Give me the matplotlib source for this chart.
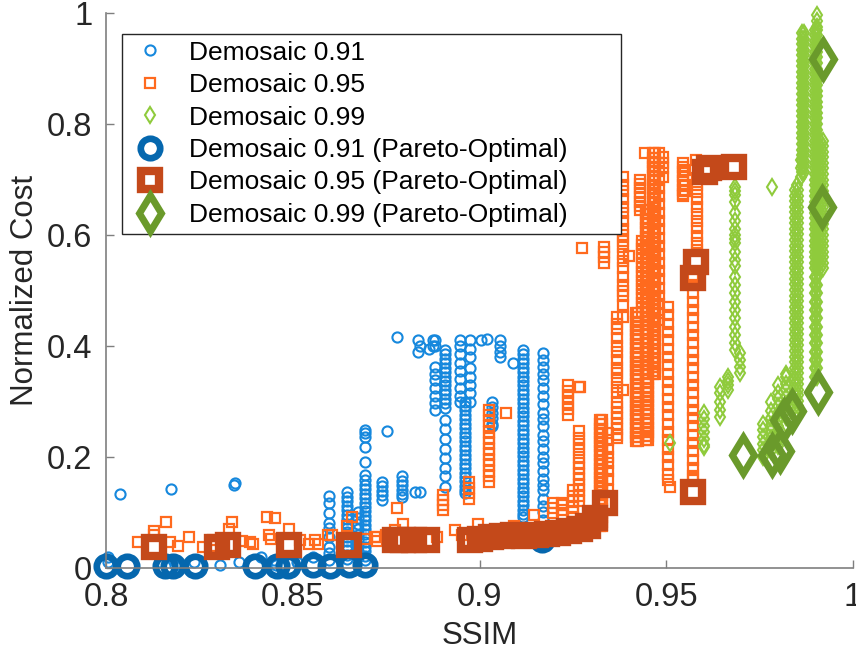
import matplotlib
matplotlib.use("Agg")
import matplotlib.pyplot as plt

plt.rcParams['font.family'] = ['Liberation Sans', 'DejaVu Sans']

# ---- Demosaic 0.91 (small circles) ----
blue_pts_x = [0.8005, 0.8005, 0.8038, 0.8145, 0.8173, 0.818, 0.8185, 0.8235, 0.8305, 0.8342,
              0.8345, 0.8357, 0.8415, 0.845, 0.8455, 0.851, 0.8555, 0.8753, 0.878, 0.8827,
              0.884, 0.909, 0.9005, 0.902, 0.8835, 0.884, 0.8835, 0.8875, 0.8875, 0.8865]
blue_pts_y = [0.02, 0.01, 0.133, 0.01, 0.142, 0.015, 0.005, 0.01, 0.005, 0.15,
              0.153, 0.01, 0.02, 0.015, 0.005, 0.01, 0.02, 0.247, 0.416, 0.137,
              0.137, 0.37, 0.41, 0.412, 0.41, 0.40, 0.39, 0.41, 0.40, 0.395]
blue_cols = [
    (0.8597, [0.13, 0.117, 0.099, 0.081, 0.072, 0.056, 0.038, 0.027, 0.015]),
    (0.8644, [0.137, 0.128, 0.12, 0.112, 0.104, 0.096, 0.088, 0.08, 0.072, 0.064, 0.056,
              0.048, 0.04, 0.032, 0.024, 0.016]),
    (0.8675, [0.1, 0.09, 0.08, 0.07, 0.06, 0.05, 0.04, 0.03, 0.02]),
    (0.8693, [0.249, 0.243, 0.236, 0.218, 0.191, 0.168, 0.159, 0.15, 0.142, 0.134, 0.126,
              0.118, 0.11, 0.102, 0.094, 0.086, 0.078, 0.07, 0.062, 0.054, 0.046, 0.038,
              0.03, 0.022, 0.014]),
    (0.8738, [0.155, 0.147, 0.139, 0.131, 0.122]),
    (0.8792, [0.165, 0.157, 0.149, 0.141, 0.133, 0.128]),
    (0.888, [0.41, 0.40, 0.362, 0.35, 0.338, 0.325, 0.31, 0.298, 0.285]),
    (0.8907, [0.393, 0.385, 0.377, 0.369, 0.361, 0.353, 0.345, 0.337, 0.329, 0.321, 0.313,
              0.305, 0.297, 0.289, 0.267, 0.25, 0.232, 0.215, 0.198, 0.18, 0.165, 0.146]),
    (0.8948, [0.41, 0.40, 0.385, 0.37, 0.355, 0.34, 0.325, 0.31, 0.3]),
    (0.8961, [0.3, 0.292, 0.284, 0.276, 0.268, 0.26, 0.252, 0.244, 0.236, 0.228, 0.22,
              0.212, 0.204, 0.196, 0.188, 0.18, 0.172, 0.164, 0.156, 0.148, 0.14, 0.135]),
    (0.8975, [0.41, 0.395, 0.38, 0.36, 0.345, 0.33, 0.315, 0.3]),
    (0.9033, [0.3, 0.29, 0.28, 0.27, 0.26, 0.255]),
    (0.9055, [0.41, 0.40, 0.39, 0.38]),
    (0.9117, [0.393, 0.385, 0.377, 0.369, 0.361, 0.353, 0.345, 0.337, 0.329, 0.321, 0.313,
              0.305, 0.297, 0.289, 0.281, 0.273, 0.265, 0.257, 0.249, 0.241, 0.233, 0.225,
              0.217, 0.209, 0.201, 0.193, 0.185, 0.177, 0.169, 0.161, 0.153, 0.145, 0.137,
              0.129, 0.121, 0.113, 0.105, 0.097, 0.092]),
    (0.917, [0.387, 0.375, 0.363, 0.35, 0.338, 0.325, 0.31, 0.295, 0.28, 0.268, 0.255,
             0.24, 0.228, 0.215, 0.2, 0.19, 0.175, 0.16, 0.15, 0.14, 0.125, 0.112, 0.1, 0.087]),
]
blue_par_x = [0.8, 0.8055, 0.8158, 0.818, 0.8238, 0.8399, 0.8457, 0.8488, 0.8555, 0.86,
              0.8649, 0.8693, 0.9167]
blue_par_y = [0.003, 0.003, 0.004, 0.003, 0.004, 0.004, 0.003, 0.004, 0.005, 0.004,
              0.005, 0.005, 0.05]

# ---- Demosaic 0.95 (small squares) ----
orange_pts_x = [0.8085, 0.8129, 0.8129, 0.816, 0.817, 0.8192, 0.8221, 0.826, 0.8285, 0.8287,
                0.833, 0.8337, 0.8363, 0.8384, 0.8394, 0.843, 0.8452, 0.8436, 0.8441, 0.849,
                0.852, 0.8544, 0.8566, 0.8558, 0.8595, 0.8606, 0.8644, 0.8658, 0.8693, 0.8725,
                0.8725, 0.875, 0.8774, 0.8796, 0.878, 0.872, 0.8885, 0.8933, 0.8952, 0.8997,
                0.907, 0.9093, 0.9146, 0.9222, 0.9267, 0.9274, 0.94, 0.9385, 0.9443, 0.958,
                0.9269, 0.951]
orange_pts_y = [0.047, 0.067, 0.06, 0.082, 0.046, 0.04, 0.056, 0.038, 0.05, 0.04,
                0.07, 0.082, 0.049, 0.046, 0.043, 0.091, 0.09, 0.06, 0.052, 0.07,
                0.05, 0.044, 0.043, 0.05, 0.06, 0.06, 0.076, 0.091, 0.053, 0.056,
                0.049, 0.06, 0.068, 0.08, 0.108, 0.056, 0.056, 0.068, 0.06, 0.079,
                0.28, 0.076, 0.095, 0.117, 0.326, 0.576, 0.563, 0.453, 0.747, 0.735,
                0.327, 0.146]
orange_col_9447 = [0.645, 0.637, 0.629, 0.621, 0.613, 0.605, 0.597, 0.589, 0.581, 0.573, 0.565,
                   0.557, 0.549, 0.541, 0.533, 0.525, 0.517, 0.509, 0.501, 0.493, 0.485, 0.477,
                   0.469, 0.461, 0.453, 0.445, 0.437, 0.429, 0.421, 0.413, 0.405, 0.397, 0.389,
                   0.381, 0.373, 0.365, 0.357, 0.349, 0.341, 0.333, 0.325, 0.317, 0.309, 0.301,
                   0.293, 0.285, 0.277, 0.269, 0.261, 0.253, 0.245, 0.237, 0.23]
orange_col_9465 = [0.747, 0.739, 0.731, 0.723, 0.715, 0.707, 0.699, 0.691, 0.683, 0.675, 0.667,
                   0.659, 0.651, 0.643, 0.635, 0.627, 0.619, 0.611, 0.603, 0.595, 0.587, 0.579,
                   0.571, 0.563, 0.555, 0.547, 0.539, 0.531, 0.523, 0.515, 0.507, 0.499, 0.491,
                   0.483, 0.475, 0.467, 0.459, 0.451, 0.443, 0.435, 0.427, 0.419, 0.411, 0.403,
                   0.395, 0.387, 0.379, 0.371, 0.363, 0.355, 0.35]
orange_col_942 = [0.46, 0.452, 0.444, 0.436, 0.428, 0.42, 0.412, 0.404, 0.396, 0.388, 0.38,
                  0.372, 0.364, 0.356, 0.348, 0.34, 0.332, 0.324, 0.316, 0.308, 0.3, 0.292,
                  0.284, 0.276, 0.268, 0.26, 0.252, 0.244, 0.236, 0.228]
orange_col_9323 = [0.267, 0.259, 0.251, 0.243, 0.235, 0.227, 0.219, 0.211, 0.203, 0.195, 0.187,
                   0.179, 0.171, 0.163, 0.155, 0.147, 0.139, 0.131, 0.123, 0.115, 0.107, 0.099,
                   0.091, 0.083, 0.075]
orange_cols = [
    (0.8903, [0.132, 0.123, 0.114, 0.105]),
    (0.8973, [0.155, 0.145, 0.135, 0.125]),
    (0.9024, [0.285, 0.275, 0.265, 0.255, 0.245, 0.235, 0.225, 0.215, 0.205, 0.195, 0.185,
              0.175, 0.165, 0.155]),
    (0.9196, [0.117, 0.108, 0.099]),
    (0.922, [0.114, 0.105, 0.096]),
    (0.9238, [0.33, 0.319, 0.308, 0.297, 0.286, 0.276]),
    (0.9251, [0.14, 0.13, 0.12, 0.11, 0.1, 0.09, 0.08, 0.07, 0.063]),
    (0.9265, [0.246, 0.235, 0.224, 0.213, 0.2, 0.19, 0.18, 0.17, 0.16, 0.15, 0.14, 0.13, 0.12]),
    (0.9323, orange_col_9323),
    (0.9328, orange_col_9323),
    (0.9332, [0.579, 0.57, 0.56, 0.55]),
    (0.9345, [0.243, 0.23, 0.215, 0.2, 0.19, 0.175, 0.16, 0.14]),
    (0.9367, [0.453, 0.44, 0.43, 0.415, 0.40, 0.39, 0.375, 0.36, 0.351, 0.339, 0.327, 0.315,
              0.30, 0.29, 0.28, 0.27, 0.26, 0.25, 0.24, 0.234]),
    (0.9385, [0.705, 0.69, 0.68, 0.665, 0.65, 0.64, 0.625, 0.61, 0.6, 0.59, 0.578, 0.565,
              0.553, 0.54, 0.525, 0.51, 0.5, 0.49, 0.474, 0.32]),
    (0.942, orange_col_942),
    (0.9425, orange_col_942),
    (0.943, [0.7, 0.692, 0.684, 0.676, 0.668, 0.66, 0.652, 0.645]),
    (0.9434, [0.59, 0.582, 0.574, 0.566, 0.558, 0.55, 0.542, 0.534, 0.526, 0.518, 0.51,
              0.502, 0.494, 0.486, 0.478, 0.47, 0.462]),
    (0.9447, orange_col_9447),
    (0.9452, orange_col_9447),
    (0.9465, orange_col_9465),
    (0.947, orange_col_9465),
    (0.948, [0.747, 0.73, 0.715, 0.7, 0.685, 0.67, 0.655, 0.64, 0.625, 0.61, 0.595, 0.58,
             0.565, 0.55, 0.535, 0.52, 0.505, 0.49, 0.475, 0.46, 0.447]),
    (0.9492, [0.741, 0.73, 0.72, 0.705]),
    (0.9505, [0.47, 0.455, 0.44, 0.425, 0.41, 0.395, 0.38, 0.365, 0.35, 0.335, 0.32, 0.305,
              0.29, 0.275, 0.26, 0.245, 0.23, 0.215, 0.2, 0.185, 0.17, 0.158]),
    (0.9546, [0.73, 0.722, 0.714, 0.706, 0.698, 0.69, 0.682, 0.674, 0.67]),
    (0.955, [0.717, 0.69, 0.68]),
    (0.9572, [0.525, 0.51, 0.495, 0.48, 0.465, 0.45, 0.435, 0.42, 0.405, 0.39, 0.375, 0.36,
              0.345, 0.33, 0.315, 0.3, 0.285, 0.27, 0.255, 0.24, 0.225, 0.21, 0.195, 0.18,
              0.165, 0.159]),
    (0.9581, [0.703, 0.69, 0.677, 0.664, 0.651, 0.638, 0.625, 0.612, 0.599, 0.586, 0.573]),
]
orange_par_x = [0.8129, 0.8296, 0.8327, 0.849, 0.8651, 0.8774, 0.8796, 0.8825, 0.886, 0.8975,
                0.9, 0.903, 0.906, 0.909, 0.912, 0.915, 0.918, 0.921, 0.924, 0.927,
                0.929, 0.931, 0.9335, 0.9572, 0.9572, 0.958, 0.9605, 0.9615, 0.968]
orange_par_y = [0.038, 0.038, 0.041, 0.041, 0.041, 0.05, 0.05, 0.05, 0.05, 0.05,
                0.052, 0.055, 0.058, 0.06, 0.058, 0.06, 0.062, 0.063, 0.066, 0.07,
                0.076, 0.09, 0.117, 0.137, 0.522, 0.552, 0.714, 0.72, 0.723]

# ---- Demosaic 0.99 (small diamonds) ----
green_pts_x = [0.951, 0.9782, 0.9903, 0.9903, 0.9903, 0.986, 0.986, 0.986, 0.985]
green_pts_y = [0.225, 0.687, 0.996, 0.985, 0.975, 0.735, 0.72, 0.705, 0.69]
green_col_9849 = [0.681, 0.671, 0.661, 0.651, 0.641, 0.631, 0.621, 0.611, 0.601, 0.591, 0.581,
                  0.571, 0.561, 0.551, 0.541, 0.531, 0.521, 0.511, 0.501, 0.491, 0.481, 0.471,
                  0.461, 0.451, 0.441, 0.431, 0.421, 0.411, 0.401, 0.391, 0.381, 0.371, 0.361,
                  0.351, 0.341, 0.331, 0.321, 0.311, 0.301, 0.291, 0.281]
green_col_9867 = [0.964, 0.954, 0.944, 0.934, 0.924, 0.914, 0.904, 0.894, 0.884, 0.874, 0.864,
                  0.854, 0.844, 0.834, 0.824, 0.814, 0.804, 0.794, 0.784, 0.774, 0.764, 0.754,
                  0.744, 0.734, 0.724, 0.714]
green_col_990 = [0.97, 0.96, 0.95, 0.94, 0.93, 0.92, 0.91, 0.9, 0.89, 0.88, 0.87, 0.86, 0.85,
                 0.84, 0.83, 0.82, 0.81, 0.8, 0.79, 0.78, 0.77, 0.76, 0.75, 0.74, 0.73, 0.72,
                 0.71, 0.7, 0.69, 0.68, 0.67, 0.66, 0.65, 0.64, 0.63, 0.62, 0.61, 0.6, 0.59,
                 0.58, 0.57, 0.56, 0.55, 0.54, 0.525, 0.51, 0.495, 0.48, 0.465, 0.45, 0.435,
                 0.42, 0.405, 0.39, 0.375, 0.36, 0.344]
green_col_9915 = [0.77, 0.76, 0.75, 0.74, 0.73, 0.72, 0.71, 0.7, 0.69, 0.68, 0.67, 0.66, 0.65,
                  0.64, 0.63, 0.62, 0.61, 0.6, 0.59, 0.58, 0.57, 0.56, 0.55, 0.54]
green_cols = [
    (0.96, [0.279, 0.268, 0.256, 0.245, 0.233, 0.222, 0.218]),
    (0.9644, [0.326, 0.315, 0.3, 0.285, 0.272]),
    (0.9666, [0.345, 0.337, 0.33, 0.321]),
    (0.9684, [0.687, 0.68, 0.672, 0.66, 0.64, 0.625, 0.61, 0.6, 0.592, 0.585, 0.57, 0.555,
              0.545, 0.525, 0.51, 0.495, 0.48, 0.465, 0.45, 0.435, 0.42, 0.405, 0.393]),
    (0.9697, [0.387, 0.375, 0.363, 0.351]),
    (0.976, [0.2, 0.212, 0.224, 0.236, 0.248, 0.26]),
    (0.978, [0.21, 0.222, 0.234, 0.246, 0.258, 0.27, 0.282, 0.3]),
    (0.98, [0.22, 0.232, 0.244, 0.256, 0.268, 0.28, 0.292, 0.304, 0.316, 0.33]),
    (0.982, [0.26, 0.272, 0.284, 0.296, 0.308, 0.32, 0.332, 0.344, 0.35]),
    (0.9845, green_col_9849),
    (0.9852, green_col_9849),
    (0.9864, green_col_9867),
    (0.987, green_col_9867),
    (0.9897, green_col_990),
    (0.9904, green_col_990),
    (0.9912, green_col_9915),
    (0.9919, green_col_9915),
]
green_par_x = [0.9706, 0.9782, 0.9805, 0.9814, 0.9836, 0.9907, 0.9916, 0.9919]
green_par_y = [0.204, 0.204, 0.21, 0.267, 0.282, 0.318, 0.651, 0.917]

labels = ['Demosaic 0.91', 'Demosaic 0.95', 'Demosaic 0.99',
          'Demosaic 0.91 (Pareto-Optimal)', 'Demosaic 0.95 (Pareto-Optimal)',
          'Demosaic 0.99 (Pareto-Optimal)']
c_blue, c_blue_p = '#1688dd', '#0567ae'
c_orange, c_orange_p = '#ff6a1e', '#c4491a'
c_green, c_green_p = '#8fcb3c', '#6a9a2b'


def expand(pts_x, pts_y, cols):
    xs, ys = list(pts_x), list(pts_y)
    for x, col in cols:
        xs += [x] * len(col)
        ys += col
    return xs, ys


fig = plt.figure(figsize=(8.56, 6.51), dpi=100)
ax = fig.add_axes([0.124, 0.1275, 0.8725, 0.8525])

bx, by = expand(blue_pts_x, blue_pts_y, blue_cols)
ox, oy = expand(orange_pts_x, orange_pts_y, orange_cols)
gx, gy = expand(green_pts_x, green_pts_y, green_cols)

h1, = ax.plot(bx, by, 'o', ls='none', ms=7.3, mfc='none', mec=c_blue, mew=1.5, clip_on=False)
h2, = ax.plot(ox, oy, 's', ls='none', ms=7.8, mfc='none', mec=c_orange, mew=1.6, clip_on=False)
h3, = ax.plot(gx, gy, 'd', ls='none', ms=8.5, mfc='none', mec=c_green, mew=1.5, clip_on=False)
h4, = ax.plot(blue_par_x, blue_par_y, 'o', ls='none', ms=14, mfc='none', mec=c_blue_p,
              mew=4.8, clip_on=False)
h5, = ax.plot(orange_par_x, orange_par_y, 's', ls='none', ms=13, mfc='none', mec=c_orange_p,
              mew=6, clip_on=False)
h6, = ax.plot(green_par_x, green_par_y, 'd', ls='none', ms=18, mfc='none', mec=c_green_p,
              mew=5, clip_on=False)

ax.set_xlim(0.8, 1.0)
ax.set_ylim(0, 1)
ax.set_xticks([0.8, 0.85, 0.9, 0.95, 1.0])
ax.set_xticklabels(['0.8', '0.85', '0.9', '0.95', '1'])
ax.set_yticks([0, 0.2, 0.4, 0.6, 0.8, 1.0])
ax.set_yticklabels(['0', '0.2', '0.4', '0.6', '0.8', '1'])
for s in ['top', 'right']:
    ax.spines[s].set_visible(False)
for s in ['left', 'bottom']:
    ax.spines[s].set_color('#7f7f7f')
    ax.spines[s].set_linewidth(1.2)
ax.tick_params(direction='in', length=6, width=1, color='#7f7f7f',
               labelsize=23.5, labelcolor='#262626')
ax.tick_params(axis='x', pad=10)
ax.tick_params(axis='y', pad=10)
ax.set_xlabel('SSIM', fontsize=22.5, color='#262626', labelpad=6)
ax.set_ylabel('Normalized Cost', fontsize=22.5, color='#262626', labelpad=5)

leg = ax.legend([h1, h2, h3, h4, h5, h6], labels, loc='upper left',
                bbox_to_anchor=(0.021, 0.962 - 0.38, 0.668, 0.38), mode='expand',
                borderaxespad=0, fontsize=19,
                fancybox=False, framealpha=1, edgecolor='#262626', handlelength=1.6,
                handletextpad=0.7, labelspacing=0.32, borderpad=0.25)
leg.get_frame().set_linewidth(1.0)

fig.savefig('out.png', dpi=100)
